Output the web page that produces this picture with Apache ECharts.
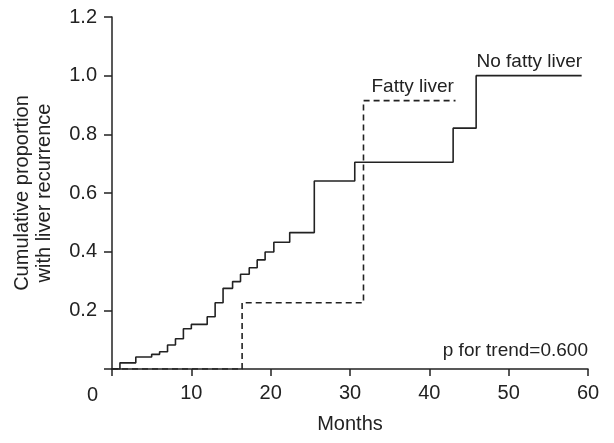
<!DOCTYPE html>
<html>
<head>
<meta charset="utf-8">
<script src="https://cdn.jsdelivr.net/npm/echarts@6/dist/echarts.min.js"></script>
<style>html,body{margin:0;padding:0;background:#fff}#c{width:614px;height:443px}</style>
</head>
<body>
<div id="c"></div>
<script>
// Data
const noFattyMonths = [0, 1, 3, 5, 6, 7, 8, 9, 10, 12, 13, 14, 15.2, 16.2, 17.3, 18.3, 19.3, 20.4, 22.4, 25.5, 30.6, 43, 45.9, 59.2];
const noFattyValues = [0, 0.021, 0.041, 0.050, 0.059, 0.082, 0.103, 0.137, 0.152, 0.178, 0.226, 0.275, 0.298, 0.323, 0.345, 0.372, 0.399, 0.432, 0.465, 0.641, 0.705, 0.821, 1.0, 1.0];
const fattyMonths = [0, 16.4, 31.7, 43.3];
const fattyValues = [0, 0.226, 0.915, 0.915];
const xTicks = [0, 10, 20, 30, 40, 50, 60];
const yTicks = [0, 0.2, 0.4, 0.6, 0.8, 1.0, 1.2];

const font = 'Liberation Sans, Arial, sans-serif';
const ink = '#222';
const zip = (a, b) => a.map((v, i) => [v, b[i]]);

const chart = echarts.init(document.getElementById('c'));
chart.setOption({
  animation: false,
  grid: {left: 112, right: 26, top: 17, bottom: 74},
  xAxis: {
    type: 'value', min: xTicks[0], max: xTicks[xTicks.length - 1], interval: 10,
    name: 'Months', nameLocation: 'middle', nameGap: 45,
    nameTextStyle: {fontFamily: font, fontSize: 20, color: ink},
    axisLine: {lineStyle: {color: ink, width: 1.5}},
    axisTick: {inside: false, length: 7, lineStyle: {color: ink, width: 1.5}},
    axisLabel: {fontFamily: font, fontSize: 20, color: ink, margin: 14,
      formatter: v => v === 0 ? '' : String(v)},
    splitLine: {show: false}
  },
  yAxis: {
    type: 'value', min: yTicks[0], max: yTicks[yTicks.length - 1], interval: 0.2,
    name: 'Cumulative proportion\nwith liver recurrence', nameLocation: 'middle', nameGap: 57,
    nameTextStyle: {fontFamily: font, fontSize: 20, color: ink, lineHeight: 22},
    axisLine: {lineStyle: {color: ink, width: 1.5}},
    axisTick: {inside: false, length: 8, lineStyle: {color: ink, width: 1.5}},
    axisLabel: {fontFamily: font, fontSize: 20, color: ink, margin: 15,
      formatter: v => v === 0 ? '' : v.toFixed(1)},
    splitLine: {show: false}
  },
  series: [
    {
      name: 'No fatty liver', type: 'line', step: 'end', symbol: 'none',
      data: zip(noFattyMonths, noFattyValues),
      lineStyle: {color: ink, width: 1.6},
      markPoint: {
        symbol: 'circle', symbolSize: 0,
        data: [{coord: [52.6, 1.0], label: {show: true, position: 'top', distance: 4,
          formatter: 'No fatty liver', fontFamily: font, fontSize: 19, color: ink}}]
      }
    },
    {
      name: 'Fatty liver', type: 'line', step: 'end', symbol: 'none',
      data: zip(fattyMonths, fattyValues),
      lineStyle: {color: ink, width: 1.6, type: [6, 4]},
      markPoint: {
        symbol: 'circle', symbolSize: 0,
        data: [{coord: [37.9, 0.915], label: {show: true, position: 'top', distance: 4,
          formatter: 'Fatty liver', fontFamily: font, fontSize: 19, color: ink}}]
      }
    }
  ],
  graphic: [
    {type: 'text', left: 87, top: 385, style: {text: '0', font: '20px ' + font, fill: ink}},
    {type: 'text', right: 26, top: 341, style: {text: 'p for trend=0.600', font: '19px ' + font, fill: ink}}
  ]
});
</script>
</body>
</html>
